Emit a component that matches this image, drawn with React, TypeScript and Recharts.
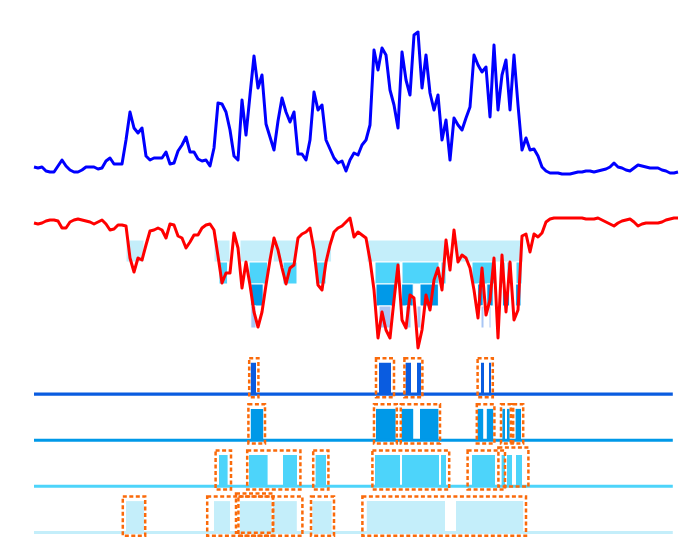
import { ComposedChart, Line, XAxis, YAxis, ReferenceArea } from "recharts";

// daily values, one per day (day 0 .. 161)
const blueValues = [
  8, 7, 8, 4, 3, 3, 9, 15, 9, 5,
  3, 3, 5, 8, 8, 8, 6, 7, 14, 17,
  11, 11, 11, 35, 63, 47, 42, 47, 19, 15,
  17, 17, 17, 23, 11, 12, 24, 30, 38, 23,
  23, 16, 14, 15, 9, 27, 72, 71, 63, 45,
  19, 15, 75, 40, 80, 119, 87, 100, 51, 38,
  25, 54, 77, 63, 53, 63, 21, 21, 15, 35,
  83, 65, 70, 35, 26, 17, 12, 14, 4, 15,
  22, 20, 30, 35, 50, 125, 105, 127, 120, 85,
  70, 47, 123, 95, 80, 140, 143, 87, 120, 82,
  65, 80, 35, 55, 15, 57, 50, 45, 57, 68,
  120, 110, 103, 108, 58, 130, 65, 100, 115, 65,
  120, 70, 25, 37, 25, 26, 19, 8, 4, 2,
  2, 2, 1, 1, 1, 2, 3, 3, 4, 4,
  3, 4, 5, 6, 8, 12, 8, 7, 5, 4,
  7, 10, 9, 8, 7, 7, 7, 5, 4, 2,
  2, 3,
];

const redValues = [
  -5, -6, -5, -3, -2, -2, -3, -10, -10, -4,
  -2, -1, -2, -3, -4, -6, -4, -2, -6, -12,
  -11, -7, -7, -8, -40, -54, -40, -42, -27, -13,
  -12, -10, -12, -20, -6, -7, -18, -20, -30, -24,
  -17, -17, -10, -7, -6, -12, -38, -65, -55, -55,
  -15, -30, -70, -44, -67, -94, -109, -94, -67, -42,
  -20, -32, -50, -66, -50, -47, -20, -16, -14, -10,
  -32, -67, -72, -44, -27, -14, -10, -8, -4, 0,
  -19, -14, -17, -20, -42, -72, -120, -94, -112, -120,
  -82, -47, -102, -110, -77, -80, -130, -112, -77, -92,
  -62, -50, -72, -22, -52, -12, -44, -37, -40, -50,
  -72, -100, -50, -97, -82, -40, -120, -37, -94, -44,
  -102, -92, -18, -16, -34, -16, -19, -15, -4, -1,
  0, 0, 0, 0, 0, 0, 0, 0, -1, -1,
  -1, 0, -2, -4, -6, -8, -5, -3, -2, -1,
  -4, -8, -6, -5, -5, -5, -5, -4, -2, -1,
  0, 0,
];

type Span = [number, number];

// episodes below each depth level: [start day, end day]
const level1Spans: Span[] = [[23, 27.5], [45, 49], [51.5, 59.4], [59.8, 65.7], [69.6, 74.4], [83.2, 102.75], [105.5, 122.3]];
const level2Spans: Span[] = [[46.25, 48.4], [53.75, 58.4], [62.25, 65.75], [70.4, 73], [85.25, 91.5], [92, 101.25], [101.75, 103], [109.5, 115.25], [116.9, 117.75], [118.25, 119.5], [120.5, 122]];
const level3Spans: Span[] = [[54.2, 57.3], [85.5, 90.4], [91.9, 94.8], [96.5, 101.1], [110.9, 112.3], [113.2, 114.8], [117.1, 117.75], [118.25, 118.9], [120.4, 121.75]];
const level4Spans: Span[] = [[54.2, 55.5], [86.25, 89.25], [92.9, 94.25], [95.75, 96.75], [111.75, 112.5], [113.75, 114.25]];

// grouped episodes (dashed boxes)
const level1Groups: Span[] = [[22.2, 27.8], [43.3, 59.8], [50.5, 59.7], [51.1, 67.1], [69.25, 75], [82.1, 123]];
const level2Groups: Span[] = [[45.4, 49.25], [53.3, 66.6], [69.8, 73.6], [84.6, 103.8], [108.4, 117.75], [116.1, 123.6]];
const level3Groups: Span[] = [[53.6, 57.75], [85, 90.7], [91.7, 101.5], [110.7, 115.1], [116.75, 119.2], [119.8, 122.3]];
const level4Groups: Span[] = [[53.8, 56.1], [85.5, 90], [92.6, 97.1], [110.9, 114.7]];

const levelDepths = [-22, -44, -66, -88, -110];
const levelColors = ["#c4eefa", "#4dd4fa", "#0099e8", "#0a5ce0"];
const levelSpans = [level1Spans, level2Spans, level3Spans, level4Spans];
const levelGroups = [level1Groups, level2Groups, level3Groups, level4Groups];
const lastDay = 161;
const baselineEnd = 159.7;

const data = blueValues.map((v, i) => ({ day: i, blue: v, red: redValues[i], row: 0 }));

// overlapping boxes get nudged up so their dashes stay apart
function overlapShift(groups: Span[], j: number) {
  const [a, b] = groups[j];
  const n = groups.slice(0, j).filter(([c, d]) => c < b && d > a).length;
  return n % 2 === 1 ? 0.065 : 0;
}

const W = 698;

function TopChart() {
  return (
    <ComposedChart width={W} height={200} data={data} margin={{ top: 25, right: 20, bottom: 25, left: 34 }}>
      <XAxis dataKey="day" type="number" domain={[0, lastDay]} hide />
      <YAxis type="number" domain={[0, 150]} hide />
      <Line type="linear" dataKey="blue" stroke="#0000ff" strokeWidth={3} strokeLinejoin="round" dot={false} isAnimationActive={false} />
    </ComposedChart>
  );
}

function DrawdownChart() {
  return (
    <ComposedChart width={W} height={160} data={data} margin={{ top: 18, right: 20, bottom: 2, left: 34 }}>
      <XAxis dataKey="day" type="number" domain={[0, lastDay]} hide />
      <YAxis type="number" domain={[-140, 0]} hide />
      {levelSpans.map((spans, k) =>
        spans.map(([a, b], j) => (
          <ReferenceArea
            key={`band-${k}-${j}`}
            x1={a}
            x2={b}
            y1={levelDepths[k]}
            y2={levelDepths[k + 1]}
            fill={levelColors[k]}
            fillOpacity={k === 3 ? 0.35 : 1}
            stroke="#ffffff"
            strokeWidth={1}
          />
        ))
      )}
      <Line type="linear" dataKey="red" stroke="#ff0000" strokeWidth={3} strokeLinejoin="round" dot={false} isAnimationActive={false} />
    </ComposedChart>
  );
}

function EpisodeRows() {
  return (
    <ComposedChart width={W} height={196} data={data} margin={{ top: 0, right: 20, bottom: 0, left: 34 }}>
      <XAxis dataKey="day" type="number" domain={[0, lastDay]} allowDataOverflow hide />
      <YAxis type="number" domain={[-0.25, 4]} allowDataOverflow hide />
      {levelSpans.map((spans, k) =>
        spans.map(([a, b], j) => (
          <ReferenceArea key={`bar-${k}-${j}`} x1={a} x2={b} y1={k} y2={k + 0.68} fill={levelColors[k]} fillOpacity={1} ifOverflow="visible" />
        ))
      )}
      {levelColors.map((c, k) => (
        <ReferenceArea key={`base-${k}`} x1={0} x2={baselineEnd} y1={k - 0.033} y2={k + 0.033} fill={c} fillOpacity={1} ifOverflow="visible" />
      ))}
      {levelGroups.map((groups, k) =>
        groups.map(([a, b], j) => {
          const s = overlapShift(groups, j);
          return (
            <ReferenceArea
              key={`box-${k}-${j}`}
              x1={a}
              x2={b}
              y1={k - 0.07 + s}
              y2={k + 0.78 + s}
              fill="none"
              stroke="#fa6a0a"
              strokeWidth={2.5}
              strokeDasharray="4 2.5"
              ifOverflow="visible"
            />
          );
        })
      )}
      <Line type="linear" dataKey="row" stroke="none" dot={false} activeDot={false} isAnimationActive={false} />
    </ComposedChart>
  );
}

export default function App() {
  return (
    <div style={{ position: "absolute", left: 0, top: 0, width: W, height: 545, background: "#fff" }}>
      <div style={{ position: "absolute", left: 0, top: 0 }}>
        <TopChart />
      </div>
      <div style={{ position: "absolute", left: 0, top: 200 }}>
        <DrawdownChart />
      </div>
      <div style={{ position: "absolute", left: 0, top: 348 }}>
        <EpisodeRows />
      </div>
    </div>
  );
}
